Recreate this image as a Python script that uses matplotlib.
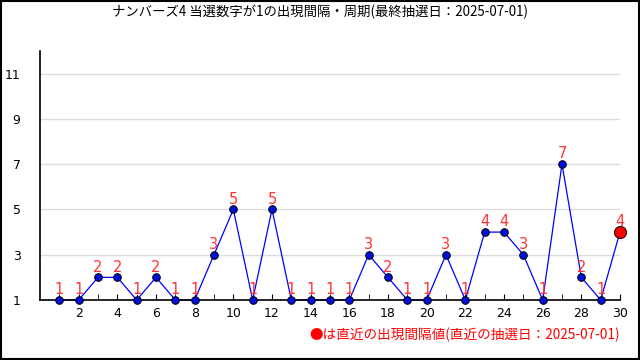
import matplotlib
matplotlib.use("Agg")
import matplotlib.pyplot as plt
import matplotlib.patches as patches

plt.rcParams['font.family'] = ['Noto Sans CJK JP', 'DejaVu Sans']

# draw numbers 1..30 and the interval (in draws) of each appearance
draws = list(range(1, 31))
intervals = [1, 1, 2, 2, 1, 2, 1, 1, 3, 5, 1, 5, 1, 1, 1, 1, 3, 2, 1, 1,
             3, 1, 4, 4, 3, 1, 7, 2, 1, 4]
y_ticks = [1, 3, 5, 7, 9, 11]
x_labels = [2, 4, 6, 8, 10, 12, 14, 16, 18, 20, 22, 24, 26, 28, 30]

title = "ナンバーズ4 当選数字が1の出現間隔・周期(最終抽選日：2025-07-01)"
note = "●は直近の出現間隔値(直近の抽選日：2025-07-01)"

fig = plt.figure(figsize=(6.4, 3.6), dpi=100)
ax = fig.add_axes([40 / 640, 60 / 360, 580 / 640, 249 / 360])

# outer frame
fig.patches.append(patches.Rectangle((0.001, 0.002), 0.997, 0.995, transform=fig.transFigure,
                                     fill=False, edgecolor='black', linewidth=1.5))

ax.plot(draws, intervals, color='blue', linewidth=0.9, zorder=2, clip_on=False)
ax.scatter(draws[:-1], intervals[:-1], s=30, color='#0010dd', edgecolor='black',
           linewidth=0.7, zorder=3, clip_on=False)
ax.scatter(draws[-1:], intervals[-1:], s=75, color='red', edgecolor='black',
           linewidth=0.7, zorder=4, clip_on=False)

for x, y in zip(draws, intervals):
    ax.annotate(str(y), (x, y), xytext=(0, 2), textcoords='offset points',
                ha='center', va='bottom', color='#ff3333', fontsize=10.5,
                family='DejaVu Sans', zorder=5)

ax.set_xlim(0, 30)
ax.set_ylim(1, 12)
ax.set_yticks(y_ticks)
ax.set_xticks(draws, minor=True)
ax.set_xticks(x_labels)
ax.tick_params(axis='y', length=0, labelsize=9, pad=14)
ax.tick_params(axis='x', which='both', direction='in', length=4, labelsize=9, pad=5)
ax.grid(axis='y', color='#dddddd', linewidth=1)
ax.set_axisbelow(True)
for s in ['top', 'right']:
    ax.spines[s].set_visible(False)
ax.spines['left'].set_linewidth(1.2)
ax.spines['bottom'].set_linewidth(1.2)
for lab in ax.get_xticklabels() + ax.get_yticklabels():
    lab.set_family('DejaVu Sans')

fig.text(0.5, 1 - 12 / 360, title, ha='center', va='center', fontsize=9.6)
fig.text(620 / 640, 1 - 335 / 360, note, ha='right', va='center', fontsize=9.8, color='red')

fig.savefig("out.png", dpi=100)
